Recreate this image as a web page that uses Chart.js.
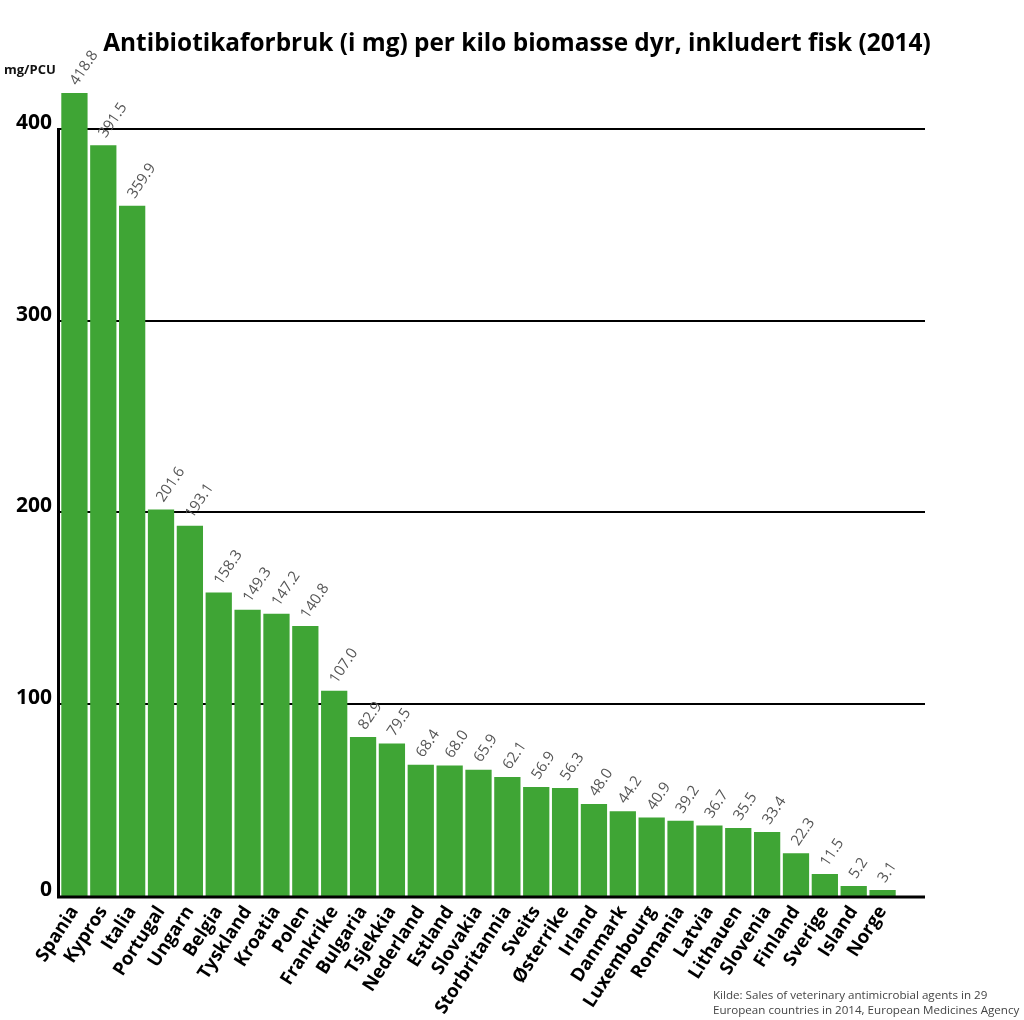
<!DOCTYPE html>
<html>
<head>
<meta charset="utf-8">
<script src="https://cdn.jsdelivr.net/npm/chart.js@4.4.1/dist/chart.umd.min.js"></script>
<style>
  html, body { margin: 0; padding: 0; background: #ffffff; }
  #wrap { width: 1024px; height: 1020px; position: relative; }
</style>
</head>
<body>
<div id="wrap"><canvas id="c" width="1024" height="1020"></canvas></div>
<script>
const categories = ["Spania","Kypros","Italia","Portugal","Ungarn","Belgia","Tyskland","Kroatia","Polen","Frankrike","Bulgaria","Tsjekkia","Nederland","Estland","Slovakia","Storbritannia","Sveits","Østerrike","Irland","Danmark","Luxembourg","Romania","Latvia","Lithauen","Slovenia","Finland","Sverige","Island","Norge"];
const values = [418.8,391.5,359.9,201.6,193.1,158.3,149.3,147.2,140.8,107.0,82.9,79.5,68.4,68.0,65.9,62.1,56.9,56.3,48.0,44.2,40.9,39.2,36.7,35.5,33.4,22.3,11.5,5.2,3.1];
const yTicks = [0,100,200,300,400];
const titleText = "Antibiotikaforbruk (i mg) per kilo biomasse dyr, inkludert fisk (2014)";
const unitText = "mg/PCU";
const sourceLines = ["Kilde: Sales of veterinary antimicrobial agents in 29", "European countries in 2014, European Medicines Agency"];

const GREEN = "#3fa535";

const decorPlugin = {
  id: 'decor',
  beforeDatasetsDraw(chart) {
    const ctx = chart.ctx, y = chart.scales.y, a = chart.chartArea;
    ctx.save();
    ctx.strokeStyle = "#000";
    ctx.lineWidth = 2;
    yTicks.forEach(v => {
      if (v === 0) return;
      const py = Math.round(y.getPixelForValue(v));
      ctx.beginPath();
      ctx.moveTo(a.left - 2, py);
      ctx.lineTo(925, py);
      ctx.stroke();
    });
    ctx.restore();
  },
  afterDatasetsDraw(chart) {
    const ctx = chart.ctx, y = chart.scales.y, a = chart.chartArea;
    const meta = chart.getDatasetMeta(0);
    ctx.save();
    ctx.strokeStyle = "#000";
    ctx.lineWidth = 3;
    const base = y.getPixelForValue(0);
    ctx.beginPath();
    ctx.moveTo(a.left - 1.5, y.getPixelForValue(400) - 1);
    ctx.lineTo(a.left - 1.5, base + 1);
    ctx.lineTo(925, base + 1);
    ctx.stroke();
    ctx.fillStyle = "#555555";
    ctx.font = "15px 'Open Sans'";
    ctx.textAlign = "left";
    ctx.textBaseline = "middle";
    meta.data.forEach((bar, i) => {
      ctx.save();
      ctx.translate(bar.x - 1, bar.y - 9);
      ctx.rotate(-56 * Math.PI / 180);
      ctx.fillText(values[i].toFixed(1), 0, 0);
      ctx.restore();
    });
    ctx.fillStyle = "#111";
    ctx.font = "bold 13px 'Open Sans'";
    ctx.fillText(unitText, 4, 70);
    ctx.fillStyle = "#444444";
    ctx.font = "11.6px 'Open Sans'";
    ctx.fillText(sourceLines[0], 713, 996);
    ctx.fillText(sourceLines[1], 713, 1011);
    ctx.restore();
  }
};

new Chart(document.getElementById('c'), {
  type: 'bar',
  data: {
    labels: categories,
    datasets: [{
      data: values,
      backgroundColor: GREEN,
      borderWidth: 0,
      barPercentage: 0.91,
      categoryPercentage: 1.0
    }]
  },
  options: {
    responsive: false,
    animation: false,
    devicePixelRatio: 1,
    layout: { padding: { left: 10, right: 0, top: 0, bottom: 0 } },
    plugins: {
      legend: { display: false },
      tooltip: { enabled: false },
      title: {
        display: true,
        text: titleText,
        color: "#000",
        font: { family: "'Open Sans'", size: 24.4, weight: 'bold' },
        padding: { top: 29.2, bottom: 32.1 }
      }
    },
    scales: {
      x: {
        grid: { display: false, drawTicks: false },
        border: { display: false },
        ticks: {
          autoSkip: false,
          minRotation: 57,
          maxRotation: 57,
          padding: 6,
          color: "#000",
          font: { family: "'Open Sans'", size: 18.5, weight: 'bold' }
        },
        afterFit(scale) { scale.height = 124; }
      },
      y: {
        min: 0,
        max: 420,
        grid: { display: false, drawTicks: false },
        border: { display: false },
        afterBuildTicks(scale) { scale.ticks = yTicks.map(v => ({ value: v })); },
        ticks: {
          padding: 8,
          labelOffset: -6,
          color: "#000",
          font: { family: "'Open Sans'", size: 21, weight: 'bold' }
        },
        afterFit(scale) { scale.width = 50; }
      },
      yr: {
        position: 'right',
        display: true,
        grid: { display: false, drawTicks: false },
        border: { display: false },
        ticks: { display: false },
        afterFit(scale) { scale.width = 127; }
      }
    }
  },
  plugins: [decorPlugin]
});
</script>
</body>
</html>
